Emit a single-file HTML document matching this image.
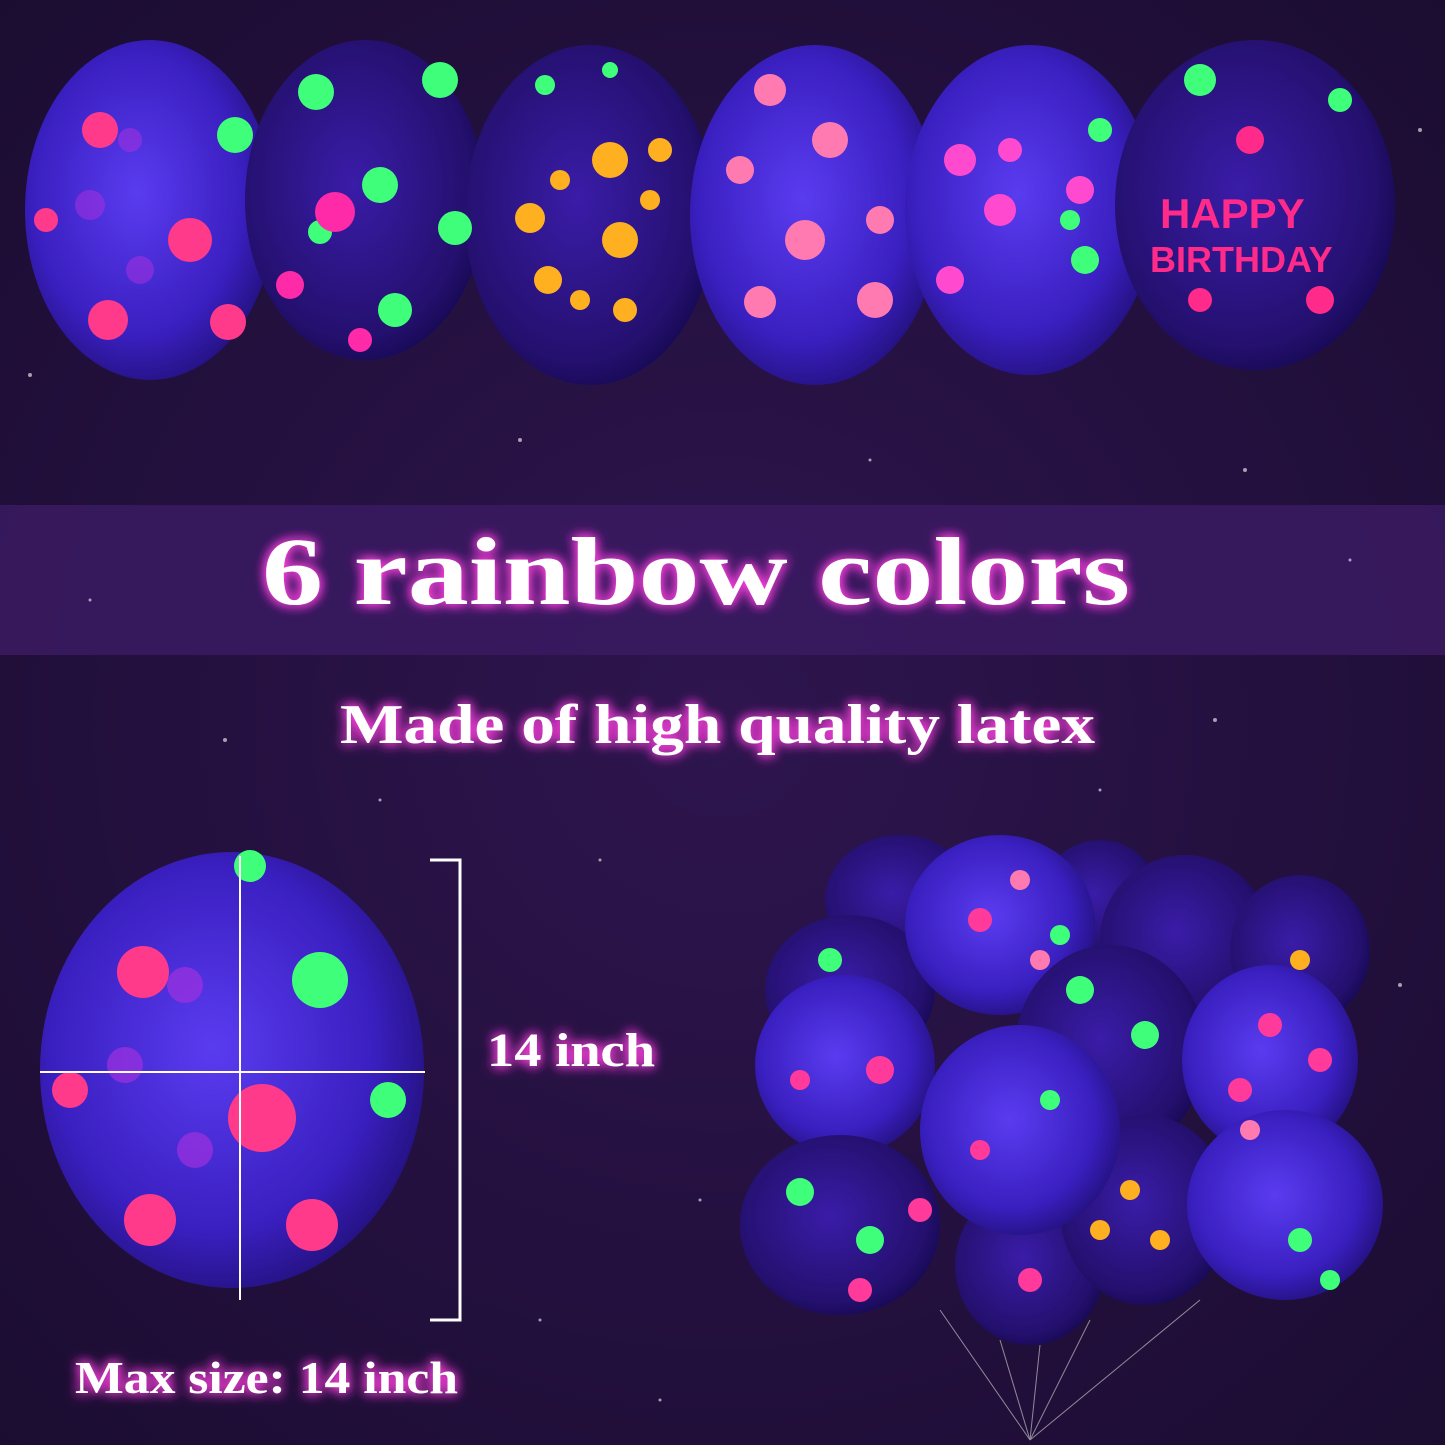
<!DOCTYPE html>
<html><head><meta charset="utf-8"><style>
html,body{margin:0;padding:0;background:#1d0d33;}
svg{display:block}
.t{font-family:"Liberation Serif",serif;font-weight:bold;fill:#fff;}
</style></head><body>
<svg width="1445" height="1445" viewBox="0 0 1445 1445" xmlns="http://www.w3.org/2000/svg">
<defs>
<radialGradient id="bg" cx="50%" cy="50%" r="75%"><stop offset="0" stop-color="#2e154e"/><stop offset="1" stop-color="#1a0c30"/></radialGradient>
<radialGradient id="bl" cx="45%" cy="45%" r="60%"><stop offset="0" stop-color="#5a3cf0"/><stop offset="0.7" stop-color="#3a1fc0"/><stop offset="1" stop-color="#22107a"/></radialGradient>
<radialGradient id="bd" cx="45%" cy="45%" r="60%"><stop offset="0" stop-color="#3a1ca8"/><stop offset="0.8" stop-color="#24106e"/><stop offset="1" stop-color="#150850"/></radialGradient>
<filter id="glow" x="-20%" y="-50%" width="140%" height="200%"><feGaussianBlur in="SourceAlpha" stdDeviation="6" result="b"/><feFlood flood-color="#ff40e0"/><feComposite in2="b" operator="in"/><feMerge><feMergeNode/><feMergeNode/><feMergeNode in="SourceGraphic"/></feMerge></filter>
</defs>
<rect width="1445" height="1445" fill="url(#bg)"/>
<rect x="0" y="505" width="1445" height="150" fill="#3a1a62" opacity="0.85"/>
<g fill="#fff" opacity="0.6">
<circle cx="30" cy="375" r="2"/><circle cx="520" cy="440" r="2"/><circle cx="1245" cy="470" r="2"/><circle cx="1420" cy="130" r="2"/><circle cx="225" cy="740" r="2"/><circle cx="1215" cy="720" r="2"/><circle cx="1400" cy="985" r="2"/><circle cx="700" cy="1200" r="1.5"/><circle cx="600" cy="860" r="1.5"/><circle cx="380" cy="800" r="1.5"/><circle cx="1100" cy="790" r="1.5"/><circle cx="90" cy="600" r="1.5"/><circle cx="1350" cy="560" r="1.5"/><circle cx="870" cy="460" r="1.5"/><circle cx="660" cy="1400" r="1.5"/><circle cx="540" cy="1320" r="1.5"/>
</g>
<!-- top row -->
<ellipse cx="150" cy="210" rx="125" ry="170" fill="url(#bl)"/>
<ellipse cx="365" cy="200" rx="120" ry="160" fill="url(#bd)"/>
<ellipse cx="590" cy="215" rx="125" ry="170" fill="url(#bd)"/>
<ellipse cx="815" cy="215" rx="125" ry="170" fill="url(#bl)"/>
<ellipse cx="1030" cy="210" rx="125" ry="165" fill="url(#bl)"/>
<ellipse cx="1255" cy="205" rx="140" ry="165" fill="url(#bd)"/>
<g fill="#ff3a8a"><circle cx="100" cy="130" r="18"/><circle cx="190" cy="240" r="22"/><circle cx="108" cy="320" r="20"/><circle cx="228" cy="322" r="18"/><circle cx="46" cy="220" r="12"/></g>
<g fill="#a030e0" opacity="0.6"><circle cx="90" cy="205" r="15"/><circle cx="140" cy="270" r="14"/><circle cx="130" cy="140" r="12"/></g>
<g fill="#3fff7a"><circle cx="235" cy="135" r="18"/><circle cx="316" cy="92" r="18"/><circle cx="440" cy="80" r="18"/><circle cx="380" cy="185" r="18"/><circle cx="455" cy="228" r="17"/><circle cx="395" cy="310" r="17"/><circle cx="320" cy="232" r="12"/></g>
<g fill="#ff2aa8"><circle cx="335" cy="212" r="20"/><circle cx="290" cy="285" r="14"/><circle cx="360" cy="340" r="12"/></g>
<g fill="#ffb020"><circle cx="610" cy="160" r="18"/><circle cx="530" cy="218" r="15"/><circle cx="620" cy="240" r="18"/><circle cx="548" cy="280" r="14"/><circle cx="580" cy="300" r="10"/><circle cx="660" cy="150" r="12"/><circle cx="650" cy="200" r="10"/><circle cx="560" cy="180" r="10"/><circle cx="625" cy="310" r="12"/></g>
<g fill="#3fff7a"><circle cx="545" cy="85" r="10"/><circle cx="610" cy="70" r="8"/></g>
<g fill="#ff7ab0"><circle cx="830" cy="140" r="18"/><circle cx="805" cy="240" r="20"/><circle cx="875" cy="300" r="18"/><circle cx="760" cy="302" r="16"/><circle cx="740" cy="170" r="14"/><circle cx="770" cy="90" r="16"/><circle cx="880" cy="220" r="14"/></g>
<g fill="#ff4ad0"><circle cx="960" cy="160" r="16"/><circle cx="1000" cy="210" r="16"/><circle cx="950" cy="280" r="14"/><circle cx="1080" cy="190" r="14"/><circle cx="1010" cy="150" r="12"/></g>
<g fill="#3fff7a"><circle cx="1085" cy="260" r="14"/><circle cx="1100" cy="130" r="12"/><circle cx="1200" cy="80" r="16"/><circle cx="1340" cy="100" r="12"/><circle cx="1070" cy="220" r="10"/></g>
<g fill="#ff2a8a"><circle cx="1250" cy="140" r="14"/><circle cx="1200" cy="300" r="12"/><circle cx="1320" cy="300" r="14"/></g>
<text x="1160" y="228" font-family="Liberation Sans,sans-serif" font-weight="bold" font-size="42" fill="#ff2a8a">HAPPY</text>
<text x="1150" y="272" font-family="Liberation Sans,sans-serif" font-weight="bold" font-size="36" fill="#ff2a8a">BIRTHDAY</text>
<!-- title -->
<text class="t" x="262" y="604" font-size="96" textLength="868" lengthAdjust="spacingAndGlyphs" filter="url(#glow)">6 rainbow colors</text>
<text class="t" x="340" y="743" font-size="56" textLength="755" lengthAdjust="spacingAndGlyphs" filter="url(#glow)">Made of high quality latex</text>
<!-- size balloon -->
<ellipse cx="232" cy="1070" rx="192" ry="218" fill="url(#bl)"/>
<g fill="#ff3a8a"><circle cx="143" cy="972" r="26"/><circle cx="262" cy="1118" r="34"/><circle cx="150" cy="1220" r="26"/><circle cx="312" cy="1225" r="26"/><circle cx="70" cy="1090" r="18"/></g>
<g fill="#3fff7a"><circle cx="320" cy="980" r="28"/><circle cx="388" cy="1100" r="18"/><circle cx="250" cy="866" r="16"/></g>
<g fill="#a030e0" opacity="0.7"><circle cx="185" cy="985" r="18"/><circle cx="125" cy="1065" r="18"/><circle cx="195" cy="1150" r="18"/></g>
<line x1="240" y1="856" x2="240" y2="1300" stroke="#fff" stroke-width="2"/>
<line x1="40" y1="1072" x2="425" y2="1072" stroke="#fff" stroke-width="2"/>
<polyline points="430,860 460,860 460,1320 430,1320" fill="none" stroke="#fff" stroke-width="3"/>
<text class="t" x="487" y="1066" font-size="48" textLength="168" lengthAdjust="spacingAndGlyphs" filter="url(#glow)">14 inch</text>
<text class="t" x="75" y="1393" font-size="46" textLength="383" lengthAdjust="spacingAndGlyphs" filter="url(#glow)">Max size: 14 inch</text>
<!-- cluster -->
<ellipse cx="900" cy="900" rx="75" ry="65" fill="url(#bd)"/>
<ellipse cx="1100" cy="900" rx="60" ry="60" fill="url(#bd)"/>
<ellipse cx="1185" cy="940" rx="85" ry="85" fill="url(#bd)"/>
<ellipse cx="1300" cy="950" rx="70" ry="75" fill="url(#bd)"/>
<ellipse cx="850" cy="990" rx="85" ry="75" fill="url(#bd)"/>
<ellipse cx="1000" cy="925" rx="95" ry="90" fill="url(#bl)"/>
<ellipse cx="1110" cy="1050" rx="95" ry="105" fill="url(#bd)"/>
<ellipse cx="845" cy="1065" rx="90" ry="90" fill="url(#bl)"/>
<ellipse cx="1270" cy="1060" rx="88" ry="95" fill="url(#bl)"/>
<ellipse cx="840" cy="1225" rx="100" ry="90" fill="url(#bd)"/>
<ellipse cx="1030" cy="1265" rx="75" ry="80" fill="url(#bd)"/>
<ellipse cx="1145" cy="1210" rx="85" ry="95" fill="url(#bd)"/>
<ellipse cx="1020" cy="1130" rx="100" ry="105" fill="url(#bl)"/>
<ellipse cx="1285" cy="1205" rx="98" ry="95" fill="url(#bl)"/>
<g fill="#3fff7a"><circle cx="800" cy="1192" r="14"/><circle cx="870" cy="1240" r="14"/><circle cx="1080" cy="990" r="14"/><circle cx="1145" cy="1035" r="14"/><circle cx="830" cy="960" r="12"/><circle cx="1050" cy="1100" r="10"/><circle cx="1300" cy="1240" r="12"/><circle cx="1060" cy="935" r="10"/><circle cx="1330" cy="1280" r="10"/></g>
<g fill="#ff3a9a"><circle cx="860" cy="1290" r="12"/><circle cx="920" cy="1210" r="12"/><circle cx="1030" cy="1280" r="12"/><circle cx="1270" cy="1025" r="12"/><circle cx="1320" cy="1060" r="12"/><circle cx="980" cy="920" r="12"/><circle cx="880" cy="1070" r="14"/><circle cx="980" cy="1150" r="10"/><circle cx="1240" cy="1090" r="12"/><circle cx="800" cy="1080" r="10"/></g>
<g fill="#ffb020"><circle cx="1130" cy="1190" r="10"/><circle cx="1160" cy="1240" r="10"/><circle cx="1300" cy="960" r="10"/><circle cx="1100" cy="1230" r="10"/></g>
<g fill="#ff7ab0"><circle cx="1020" cy="880" r="10"/><circle cx="1040" cy="960" r="10"/><circle cx="1250" cy="1130" r="10"/></g>
<g stroke="#ddd" stroke-width="1" opacity="0.6"><line x1="1040" y1="1345" x2="1030" y2="1440"/><line x1="1000" y1="1340" x2="1030" y2="1440"/><line x1="1090" y1="1320" x2="1030" y2="1440"/><line x1="1200" y1="1300" x2="1030" y2="1440"/><line x1="940" y1="1310" x2="1030" y2="1440"/></g>
</svg>
</body></html>
